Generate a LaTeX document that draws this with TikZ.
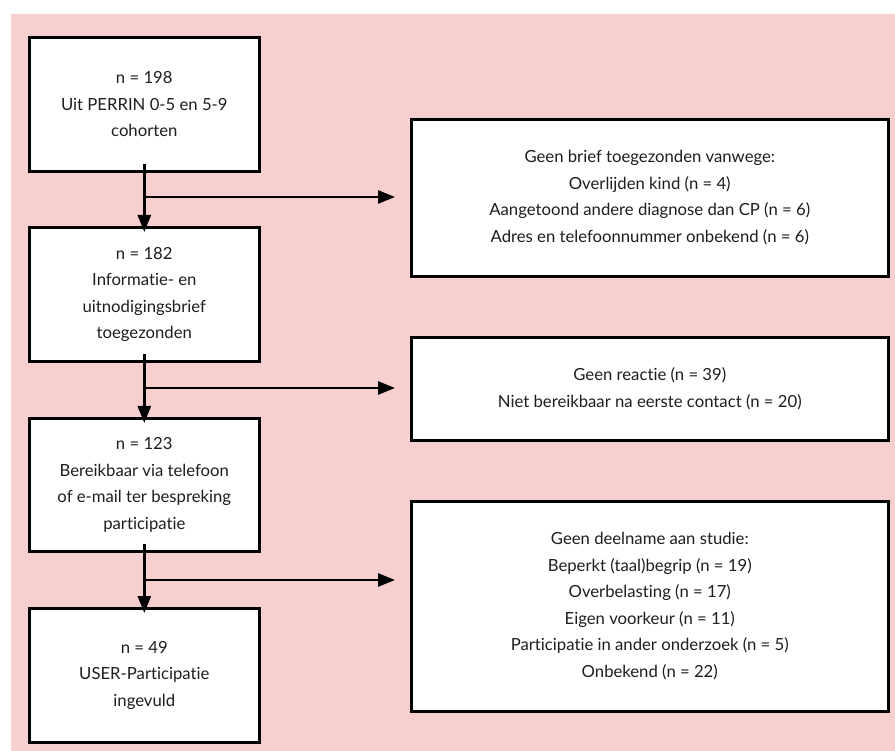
\documentclass[tikz,border=0pt]{standalone}
\usepackage{fontspec}
\setmainfont{Lato}[Ligatures={NoCommon,NoRare,NoDiscretionary}]
\usetikzlibrary{arrows.meta}
\definecolor{bgpink}{HTML}{F7CFCF}
\definecolor{txt}{HTML}{1E1E1E}
\begin{document}
\begin{tikzpicture}[x=1pt,y=-1pt,
  box/.style={draw=black,line width=2.6pt,fill=white,align=center,text=txt,
    font=\fontsize{16.7}{26.5}\selectfont,inner sep=0pt,anchor=north west},
  conn/.style={line width=2.6pt,-{Triangle[length=17pt,width=13pt]}}]
\useasboundingbox (0,0) rectangle (895,751);
\fill[bgpink] (11,14) rectangle (895,751);
\node[box,minimum width=230pt,minimum height=134pt] (a) at (28,36) {n = 198\\Uit PERRIN 0-5 en 5-9\\cohorten};
\node[box,minimum width=230pt,minimum height=134pt] (b) at (28,226) {n = 182\\Informatie- en\\uitnodigingsbrief\\toegezonden};
\node[box,minimum width=230pt,minimum height=133pt] (c) at (28,417) {n = 123\\Bereikbaar via telefoon\\of e-mail ter bespreking\\participatie};
\node[box,minimum width=230pt,minimum height=134pt] (d) at (28,607) {n = 49\\USER-Participatie\\ingevuld};
\node[box,minimum width=477pt,minimum height=157pt] (r1) at (410,118) {Geen brief toegezonden vanwege:\\Overlijden kind (n = 4)\\Aangetoond andere diagnose dan CP (n = 6)\\Adres en telefoonnummer onbekend (n = 6)};
\node[box,minimum width=477pt,minimum height=103pt] (r2) at (410,336) {Geen reactie (n = 39)\\Niet bereikbaar na eerste contact (n = 20)};
\node[box,minimum width=477pt,minimum height=210pt] (r3) at (410,500) {Geen deelname aan studie:\\Beperkt (taal)begrip (n = 19)\\Overbelasting (n = 17)\\Eigen voorkeur (n = 11)\\Participatie in ander onderzoek (n = 5)\\Onbekend (n = 22)};
\coordinate (j1) at (143,197);
\coordinate (j2) at (143,388);
\coordinate (j3) at (143,580);
\coordinate (t1) at (395,197);
\coordinate (t2) at (395,388);
\coordinate (t3) at (395,580);
\draw[conn] ([yshift=9pt]a.south) -- ([yshift=-6pt]b.north);
\draw[conn] ([yshift=9pt]b.south) -- ([yshift=-6pt]c.north);
\draw[conn] ([yshift=9pt]c.south) -- ([yshift=-6pt]d.north);
\draw[conn] (j1) -- (t1);
\draw[conn] (j2) -- (t2);
\draw[conn] (j3) -- (t3);
\end{tikzpicture}
\end{document}
